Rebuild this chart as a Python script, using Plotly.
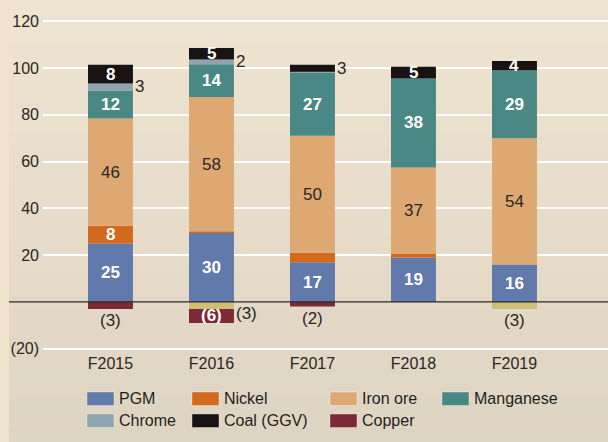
import plotly.graph_objects as go

CATEGORIES = ["F2015", "F2016", "F2017", "F2018", "F2019"]
PGM = [25, 29.6, 17, 19, 16]
NICKEL = [7.6, 0.4, 4, 1.5, 0]
IRON_ORE = [45.8, 57.6, 50, 37, 54]
MANGANESE = [12, 14, 27, 38, 29]
CHROME = [3, 2, 0.4, 0, 0]
COAL = [8, 5, 3, 5, 4]
OTHER = [0, -3, 0, 0, -3]
COPPER = [-3, -6, -2, 0, 0]

Y_TICKS = [-20, 20, 40, 60, 80, 100, 120]
Y_TICK_TEXT = ["(20)", "20", "40", "60", "80", "100", "120"]

# name, values, colour, label font colour, bold label, in legend
SERIES = [
    ("PGM", PGM, "#6279ab", "white", True, True),
    ("Nickel", NICKEL, "#d2691d", "white", True, True),
    ("Iron ore", IRON_ORE, "#dea873", "#2b2622", False, True),
    ("Manganese", MANGANESE, "#4a8886", "white", True, True),
    ("Chrome", CHROME, "#8fa4ae", "white", True, True),
    ("Coal (GGV)", COAL, "#181312", "white", True, True),
    ("Other", OTHER, "#cfbf76", "white", True, False),
    ("Copper", COPPER, "#7d2a37", "white", True, True),
]

# labels that sit outside their segment (or are left off)
OUTSIDE = {
    ("Nickel", 2): "hide",
    ("Chrome", 0): "right",
    ("Chrome", 1): "right",
    ("Coal (GGV)", 2): "right",
    ("Other", 1): "right_top",
    ("Other", 4): "below",
    ("Copper", 0): "below",
    ("Copper", 2): "below",
}

BAR_W = 0.445
W, H = 608, 442
M_L, M_R, M_T, M_B = 43, 0, 10, 90
NUM_FONT = "Liberation Sans Narrow, Arial Narrow, Liberation Sans, Arial"
TXT_FONT = "Liberation Sans, Arial, sans-serif"
DARK = "#2b2622"

fig = go.Figure()
for name, vals, color, _, _, _ in SERIES:
    fig.add_trace(
        go.Bar(
            x=CATEGORIES,
            y=vals,
            name=name,
            width=BAR_W,
            marker={"color": color, "line": {"width": 0}},
            showlegend=False,
            hoverinfo="skip",
        )
    )

# value labels, placed at segment centres from the stacked sums
pos_base = [0.0] * len(CATEGORIES)
neg_base = [0.0] * len(CATEGORIES)
for name, vals, color, lab_color, bold, _ in SERIES:
    for i, v in enumerate(vals):
        if v >= 0:
            lo, hi = pos_base[i], pos_base[i] + v
            pos_base[i] = hi
        else:
            hi, lo = neg_base[i], neg_base[i] + v
            neg_base[i] = lo
        place = OUTSIDE.get((name, i))
        if abs(v) < 2 or place == "hide":
            continue
        txt = f"{v:.0f}" if v > 0 else f"({abs(v):.0f})"
        ann = {"text": txt, "showarrow": False, "xref": "x", "yref": "y"}
        if place is None:
            ann.update(x=i, y=(lo + hi) / 2, xanchor="center", yanchor="middle",
                       font={"family": NUM_FONT, "size": 17, "color": lab_color,
                             "weight": "bold" if bold else "normal"})
        elif place == "right":
            ann.update(x=i + BAR_W / 2, y=(lo + hi) / 2, xanchor="left",
                       yanchor="middle",
                       font={"family": NUM_FONT, "size": 17, "color": DARK})
        elif place == "right_top":
            ann.update(x=i + BAR_W / 2, y=hi, xanchor="left", yanchor="top",
                       font={"family": NUM_FONT, "size": 17, "color": DARK})
        else:
            ann.update(x=i, y=lo, xanchor="center", yanchor="top",
                       font={"family": NUM_FONT, "size": 17, "color": DARK})
        fig.add_annotation(**ann)

# background: light strip on the left, soft vertical gradient elsewhere
px_x = lambda p: (p - M_L) / (W - M_L - M_R)
px_y = lambda p: (H - M_B - p) / (H - M_T - M_B)
top_rgb, bot_rgb = (239, 228, 208), (222, 212, 194)
n = 30
for k in range(n):
    t = k / (n - 1)
    c = tuple(round(a + (b - a) * t) for a, b in zip(top_rgb, bot_rgb))
    fig.add_shape(type="rect", xref="paper", yref="paper",
                  x0=px_x(9), x1=1.0, y0=px_y(H * (k + 1) / n + 1), y1=px_y(H * k / n),
                  fillcolor=f"rgb{c}", line_width=0, layer="below")
fig.add_shape(type="rect", xref="paper", yref="paper",
              x0=px_x(0), x1=px_x(9), y0=px_y(H), y1=px_y(0),
              fillcolor="#efe3cd", line_width=0, layer="below")

# zero line reaching into the tick label margin
fig.add_shape(type="line", xref="paper", yref="y", x0=px_x(9), x1=1.0, y0=0, y1=0,
              line={"color": "#2a2a2a", "width": 1.3})

# legend drawn as swatches + text
LEG_COLS = [87, 192, 330, 442]
LEG_ROWS = [392, 414]
legend_items = [s for s in SERIES if s[5]]
for j, (name, _, color, _, _, _) in enumerate(legend_items):
    cx = LEG_COLS[j % 4]
    ry = LEG_ROWS[j // 4]
    fig.add_shape(type="rect", xref="paper", yref="paper",
                  x0=px_x(cx), x1=px_x(cx + 27), y0=px_y(ry + 13.5), y1=px_y(ry),
                  fillcolor=color, line={"color": "rgba(255,255,255,0.35)", "width": 1})
    fig.add_annotation(text=name, xref="paper", yref="paper", showarrow=False,
                       x=px_x(cx + 30), y=px_y(ry + 6.75), xanchor="left",
                       yanchor="middle",
                       font={"family": TXT_FONT, "size": 16, "color": "#231f1c"})

fig.update_layout(
    width=W,
    height=H,
    margin={"l": M_L, "r": M_R, "t": M_T, "b": M_B, "autoexpand": False},
    barmode="relative",
    paper_bgcolor="#e8decb",
    plot_bgcolor="rgba(0,0,0,0)",
    showlegend=False,
    font={"family": TXT_FONT, "color": DARK},
)
fig.update_xaxes(
    range=[-0.668, 4.926],
    showgrid=False,
    showline=False,
    ticks="",
    tickfont={"family": TXT_FONT, "size": 16, "color": DARK},
    ticklabelstandoff=0,
    automargin=False,
)
fig.update_yaxes(
    range=[-21.4, 124.8],
    tickvals=Y_TICKS,
    ticktext=Y_TICK_TEXT,
    showgrid=True,
    gridcolor="white",
    gridwidth=1.6,
    zeroline=False,
    showline=False,
    ticks="",
    tickfont={"family": TXT_FONT, "size": 16, "color": DARK},
    ticklabelstandoff=3,
    automargin=False,
)

# the page's default body margin would push the figure 8px in
fig.write_html(
    "out.html",
    config={"displayModeBar": False},
    post_script="document.body.style.margin = '0';",
)
